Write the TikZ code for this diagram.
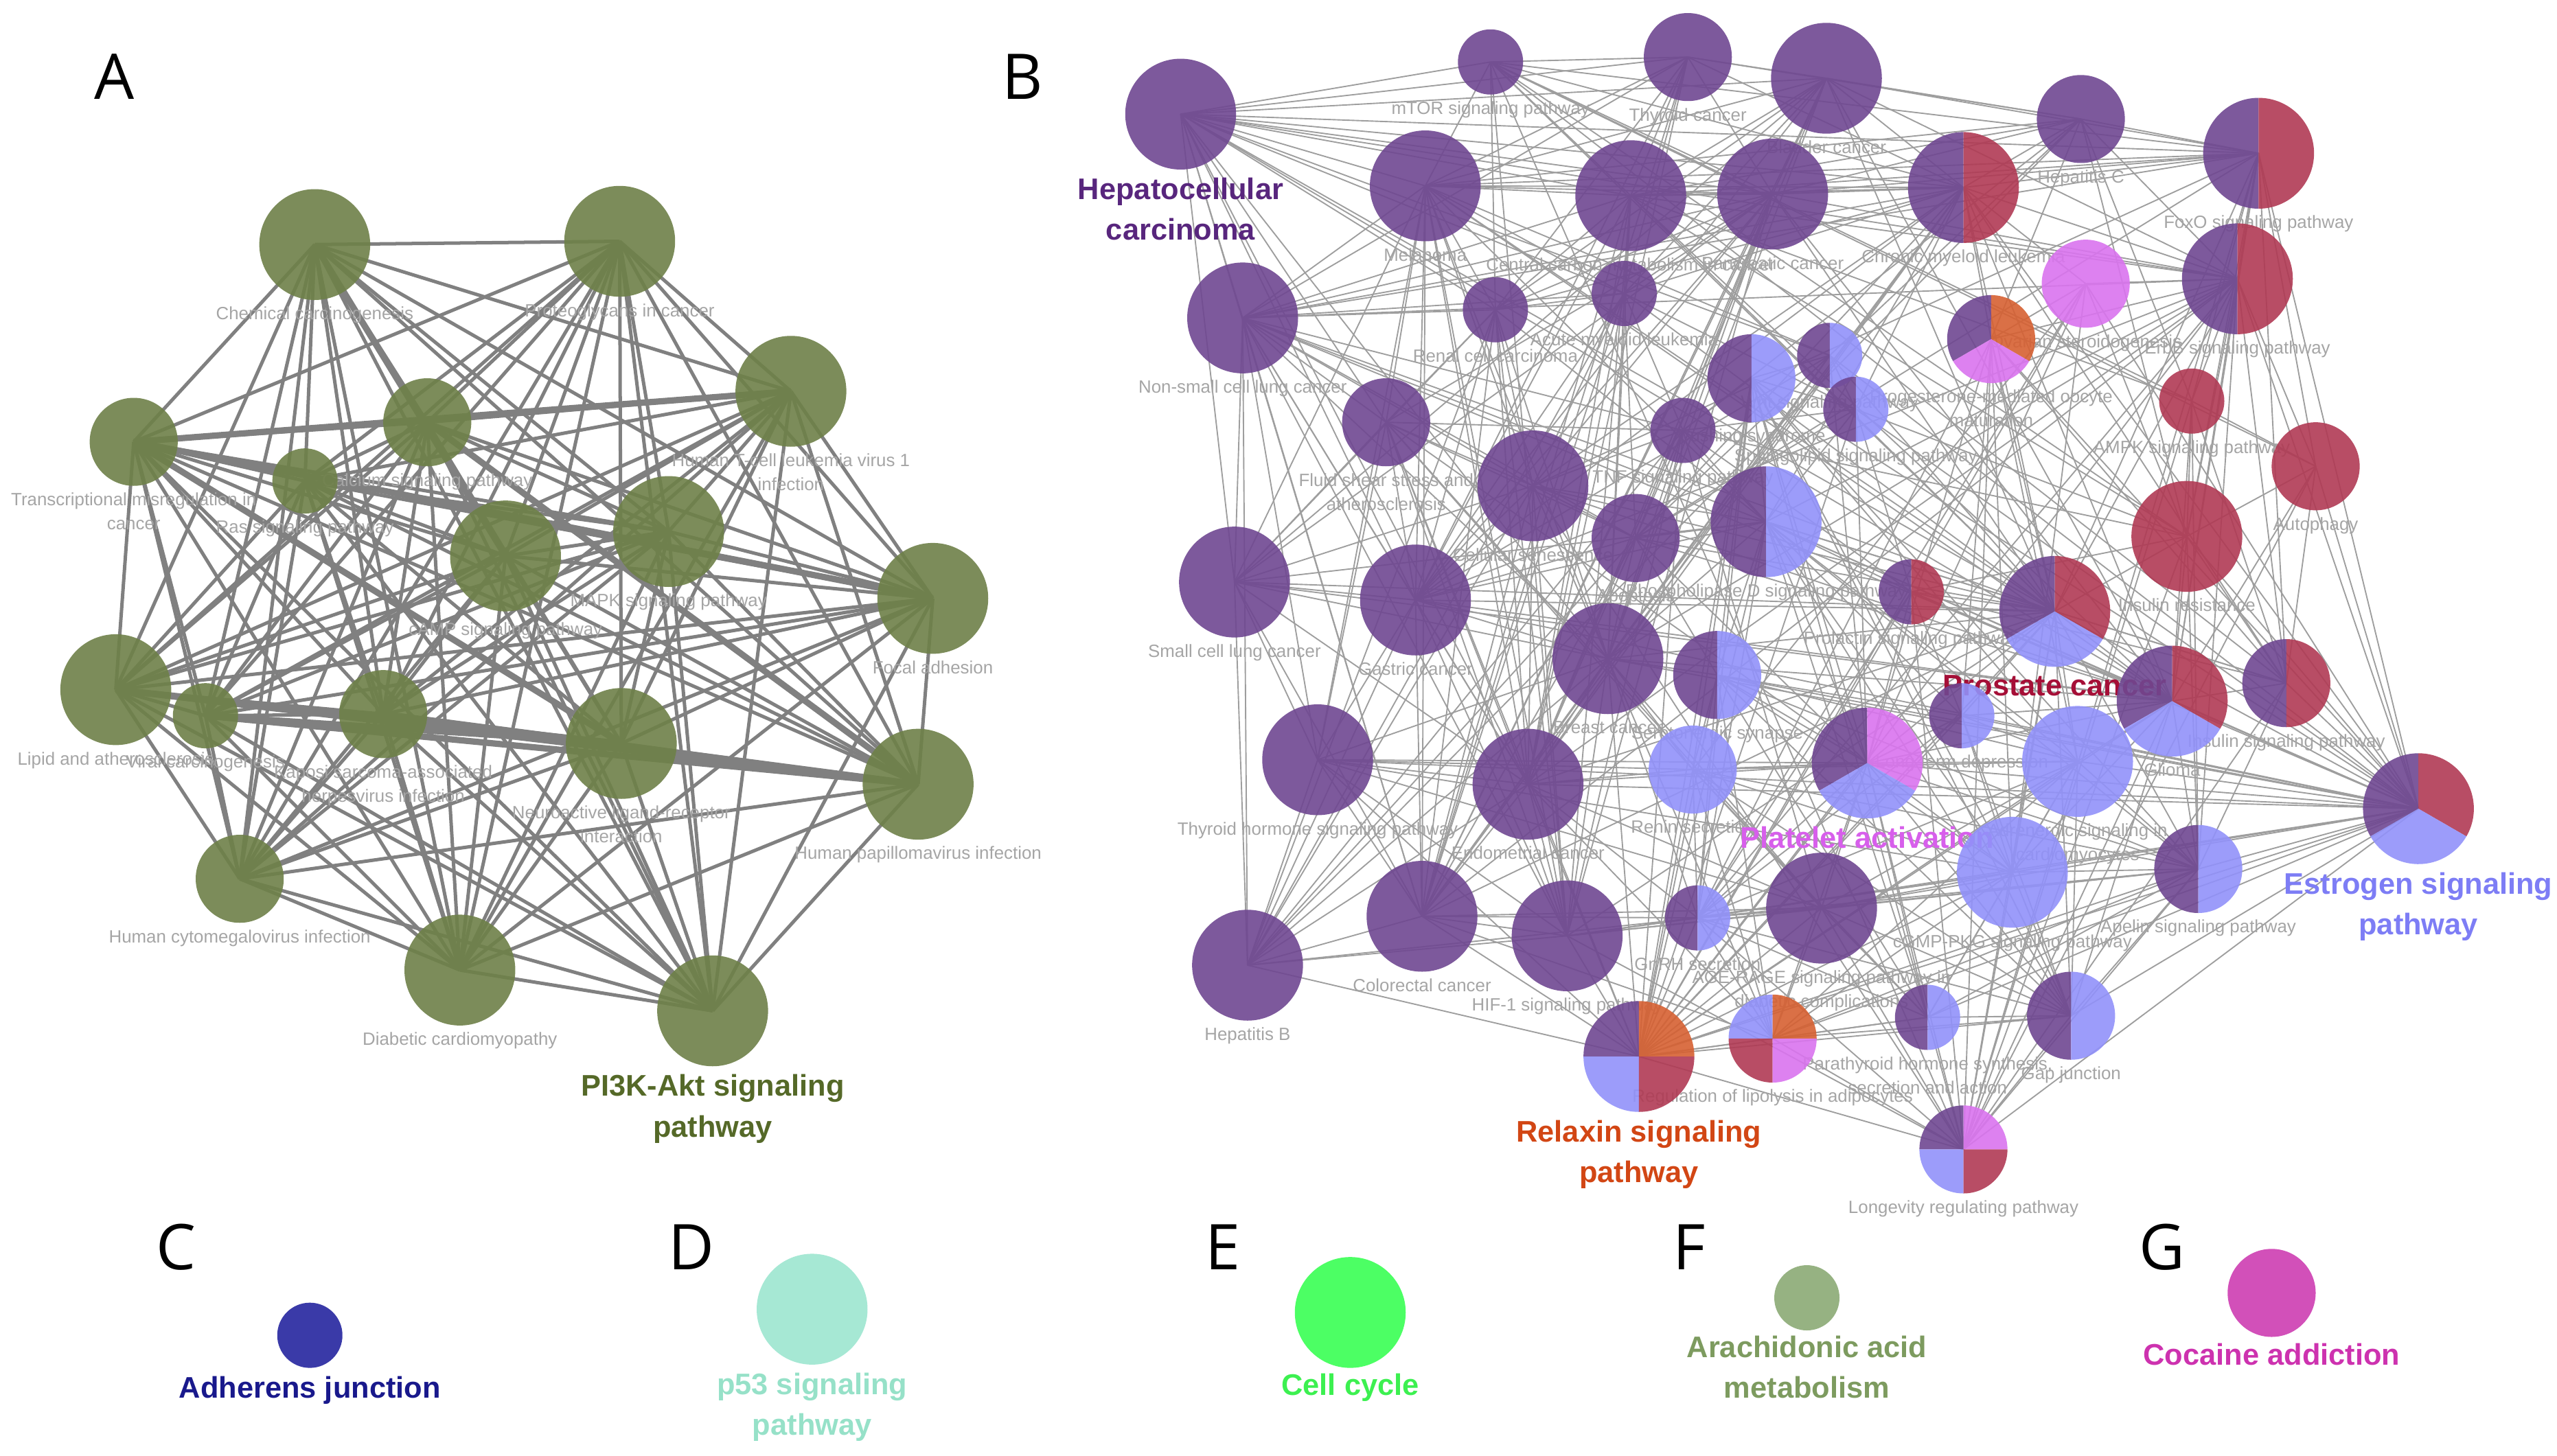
\documentclass[tikz,border=0pt]{standalone}
\usepackage{fontspec}
\setmainfont{Liberation Sans}
\newfontfamily\letterfont{Open Sans}
\usepackage{xcolor}
\usepackage{tikz}
\usetikzlibrary{positioning}

\definecolor{nodeOlive}{RGB}{110,128,72}
\definecolor{nodePurple}{RGB}{111,71,145}
\definecolor{nodeRed}{RGB}{176,58,84}
\definecolor{nodeBlue}{RGB}{145,145,250}
\definecolor{nodeMagenta}{RGB}{217,115,238}
\definecolor{nodeOrange}{RGB}{214,96,50}
\definecolor{labGray}{RGB}{165,165,165}
\definecolor{linkDark}{RGB}{128,128,128}
\definecolor{linkLight}{RGB}{158,158,158}
\definecolor{hccText}{RGB}{88,38,125}
\definecolor{pikText}{RGB}{85,105,40}
\definecolor{prostText}{RGB}{165,15,55}
\definecolor{plateText}{RGB}{215,95,235}
\definecolor{estroText}{RGB}{125,125,245}
\definecolor{relaxText}{RGB}{210,70,20}
\definecolor{keyAdherens}{RGB}{58,58,168}
\definecolor{keyAdherensText}{RGB}{25,25,140}
\definecolor{keyP53}{RGB}{166,232,212}
\definecolor{keyP53Text}{RGB}{150,225,200}
\definecolor{keyCycle}{RGB}{76,255,100}
\definecolor{keyCycleText}{RGB}{60,240,80}
\definecolor{keyArach}{RGB}{150,178,130}
\definecolor{keyArachText}{RGB}{125,155,95}
\definecolor{keyCocaine}{RGB}{210,80,185}
\definecolor{keyCocaineText}{RGB}{205,50,175}

\pgfdeclarelayer{edges}
\pgfdeclarelayer{labels}
\pgfsetlayers{edges,labels,main}

% slices of the nodes shared by several groups
\newcommand{\pieslice}[5]{%
  \fill[#5, fill opacity=0.9] (#1.center) -- ++(#3:#2) arc[start angle=#3, end angle=#4, radius=#2] -- cycle;}
\newcommand{\halfpie}[4]{\pieslice{#1}{#2}{90}{270}{#3}\pieslice{#1}{#2}{-90}{90}{#4}}
\newcommand{\thirdpie}[5]{\pieslice{#1}{#2}{90}{210}{#3}\pieslice{#1}{#2}{-30}{90}{#4}\pieslice{#1}{#2}{210}{330}{#5}}
\newcommand{\quadpie}[6]{\pieslice{#1}{#2}{90}{180}{#3}\pieslice{#1}{#2}{0}{90}{#4}\pieslice{#1}{#2}{180}{270}{#5}\pieslice{#1}{#2}{270}{360}{#6}}

\begin{document}
\begin{tikzpicture}[
    x=0.02cm, y=-0.02cm,
    term/.style={circle, inner sep=0pt, fill opacity=0.9},
    termBig/.style={term, minimum size=1.36cm},
    termMid/.style={term, minimum size=1.08cm},
    termSmall/.style={term, minimum size=0.8cm},
    lab/.style={font=\fontsize{6.2}{8.4}\selectfont, text=labGray, align=center, inner sep=0.5pt},
    headlab/.style={font=\fontsize{10.4}{14.2}\selectfont\bfseries, align=center, inner sep=0.5pt},
    panel/.style={font=\letterfont\fontsize{22}{26}\selectfont, inner sep=0pt},
    alink/.style={draw=linkDark, line width=1.2pt},
    blink/.style={draw=linkLight, line width=0.45pt}
]

\useasboundingbox (0,0) rectangle (1568,893);

% panel letters
\node[panel] (letterA) at (70,47) {A};
\node[panel] (letterB) at (627,47) {B};
\node[panel] (letterC) at (108,765) {C};
\node[panel] (letterD) at (424,765) {D};
\node[panel] (letterE) at (750,765) {E};
\node[panel] (letterF) at (1036,765) {F};
\node[panel] (letterG) at (1326,765) {G};

% A: PI3K-Akt group
\node[termBig, fill=nodeOlive] (chem) at (193,150) {};
\node[termBig, fill=nodeOlive] (proteo) at (380,148) {};
\node[termBig, fill=nodeOlive] (htlv) at (485,240) {};
\node[termMid, fill=nodeOlive] (transc) at (82,271) {};
\node[termMid, fill=nodeOlive] (calcium) at (262,259) {};
\node[termSmall, fill=nodeOlive] (ras) at (187,295) {};
\node[termBig, fill=nodeOlive] (camp) at (310,341) {};
\node[termBig, fill=nodeOlive] (mapk) at (410,326) {};
\node[termBig, fill=nodeOlive] (focal) at (572,367) {};
\node[termBig, fill=nodeOlive] (lipid) at (71,423) {};
\node[termSmall, fill=nodeOlive] (viral) at (126,439) {};
\node[termMid, fill=nodeOlive] (kaposi) at (235,438) {};
\node[termBig, fill=nodeOlive] (neuro) at (381,456) {};
\node[termBig, fill=nodeOlive] (hpv) at (563,481) {};
\node[termMid, fill=nodeOlive] (hcmv) at (147,539) {};
\node[termBig, fill=nodeOlive] (diab) at (282,595) {};
\node[termBig, fill=nodeOlive] (pikt) at (437,620) {};

% B: plain nodes
\node[termBig, fill=nodePurple] (hcc) at (724,70) {};
\node[termSmall, fill=nodePurple] (mtor) at (914,38) {};
\node[termMid, fill=nodePurple] (thyca) at (1035,35) {};
\node[termBig, fill=nodePurple] (bladder) at (1120,48) {};
\node[termMid, fill=nodePurple] (hepc) at (1276,73) {};
\node[termBig, fill=nodePurple] (melan) at (874,114) {};
\node[termBig, fill=nodePurple] (ccm) at (1000,120) {};
\node[termBig, fill=nodePurple] (panc) at (1087,119) {};
\node[termMid, fill=nodeMagenta] (ovarian) at (1279,174) {};
\node[termSmall, fill=nodePurple] (renal) at (917,190) {};
\node[termSmall, fill=nodePurple] (aml) at (996,180) {};
\node[termBig, fill=nodePurple] (nsclc) at (762,195) {};
\node[termSmall, fill=nodeRed] (ampk) at (1344,246) {};
\node[termMid, fill=nodePurple] (fluid) at (850,259) {};
\node[termSmall, fill=nodePurple] (tnf) at (1032,264) {};
\node[termBig, fill=nodePurple] (cellsen) at (940,298) {};
\node[termMid, fill=nodePurple] (apop) at (1003,330) {};
\node[termMid, fill=nodeRed] (autoph) at (1420,286) {};
\node[termBig, fill=nodeRed] (insres) at (1341,329) {};
\node[termBig, fill=nodePurple] (smallcell) at (757,357) {};
\node[termBig, fill=nodePurple] (gastric) at (868,368) {};
\node[termBig, fill=nodePurple] (breast) at (986,404) {};
\node[termBig, fill=nodePurple] (thyhorm) at (808,466) {};
\node[termBig, fill=nodePurple] (endo) at (937,481) {};
\node[termMid, fill=nodeBlue] (renin) at (1038,472) {};
\node[termBig, fill=nodeBlue] (adren) at (1274,467) {};
\node[termBig, fill=nodePurple] (colo) at (872,562) {};
\node[termBig, fill=nodePurple] (hif) at (961,574) {};
\node[termBig, fill=nodePurple] (agerage) at (1117,557) {};
\node[termBig, fill=nodeBlue] (cgmp) at (1234,535) {};
\node[termBig, fill=nodePurple] (hepb) at (765,592) {};

% B: shared nodes
\node[termBig] (foxo) at (1385,94) {};
\node[termBig] (cml) at (1204,115) {};
\node[termBig] (erbb) at (1372,171) {};
\node[termMid] (progest) at (1221,208) {};
\node[termMid] (cushing) at (1074,232) {};
\node[termSmall] (wnt) at (1122,218) {};
\node[termSmall] (sphingo) at (1138,251) {};
\node[termBig] (pld) at (1083,320) {};
\node[termSmall] (prolactin) at (1172,363) {};
\node[termBig] (prostate) at (1260,375) {};
\node[termMid] (sero) at (1053,414) {};
\node[termSmall] (ltd) at (1203,439) {};
\node[termBig] (glioma) at (1332,430) {};
\node[termMid] (insig) at (1402,419) {};
\node[termBig] (platelet) at (1145,468) {};
\node[termBig] (estrogen) at (1483,496) {};
\node[termSmall] (gnrh) at (1041,563) {};
\node[termMid] (apelin) at (1348,533) {};
\node[termBig] (relaxin) at (1005,648) {};
\node[termMid] (lipo) at (1087,637) {};
\node[termSmall] (parath) at (1182,624) {};
\node[termMid] (gapj) at (1270,623) {};
\node[termMid] (longev) at (1204,705) {};

\halfpie{foxo}{.68cm}{nodePurple}{nodeRed}
\halfpie{cml}{.68cm}{nodePurple}{nodeRed}
\halfpie{erbb}{.68cm}{nodePurple}{nodeRed}
\thirdpie{progest}{.54cm}{nodePurple}{nodeOrange}{nodeMagenta}
\halfpie{cushing}{.54cm}{nodePurple}{nodeBlue}
\halfpie{wnt}{.4cm}{nodePurple}{nodeBlue}
\halfpie{sphingo}{.4cm}{nodePurple}{nodeBlue}
\halfpie{pld}{.68cm}{nodePurple}{nodeBlue}
\halfpie{prolactin}{.4cm}{nodePurple}{nodeRed}
\thirdpie{prostate}{.68cm}{nodePurple}{nodeRed}{nodeBlue}
\halfpie{sero}{.54cm}{nodePurple}{nodeBlue}
\halfpie{ltd}{.4cm}{nodePurple}{nodeBlue}
\thirdpie{glioma}{.68cm}{nodePurple}{nodeRed}{nodeBlue}
\halfpie{insig}{.54cm}{nodePurple}{nodeRed}
\thirdpie{platelet}{.68cm}{nodePurple}{nodeMagenta}{nodeBlue}
\thirdpie{estrogen}{.68cm}{nodePurple}{nodeRed}{nodeBlue}
\halfpie{gnrh}{.4cm}{nodePurple}{nodeBlue}
\halfpie{apelin}{.54cm}{nodePurple}{nodeBlue}
\quadpie{relaxin}{.68cm}{nodePurple}{nodeOrange}{nodeBlue}{nodeRed}
\quadpie{lipo}{.54cm}{nodeBlue}{nodeOrange}{nodeRed}{nodeMagenta}
\halfpie{parath}{.4cm}{nodePurple}{nodeBlue}
\halfpie{gapj}{.54cm}{nodePurple}{nodeBlue}
\quadpie{longev}{.54cm}{nodePurple}{nodeMagenta}{nodeBlue}{nodeRed}

% C to G: single terms
\node[termSmall, fill=keyAdherens, fill opacity=1] (adherens) at (190,819) {};
\node[termBig, fill=keyP53, fill opacity=1] (ptf) at (498,803) {};
\node[termBig, fill=keyCycle, fill opacity=1] (cycle) at (828,805) {};
\node[termSmall, fill=keyArach, fill opacity=1] (arach) at (1108,796) {};
\node[termMid, fill=keyCocaine, fill opacity=1] (cocaine) at (1393,793) {};

\begin{pgfonlayer}{labels}
% A labels
\node[lab, below=1.5pt of chem] (chemL) {Chemical carcinogenesis};
\node[lab, below=1.5pt of proteo] (proteoL) {Proteoglycans in cancer};
\node[lab, below=1.5pt of htlv] (htlvL) {Human T-cell leukemia virus 1\\infection};
\node[lab, below=1.5pt of transc] (transcL) {Transcriptional misregulation in\\cancer};
\node[lab, below=1.5pt of calcium] (calciumL) {Calcium signaling pathway};
\node[lab, below=1.5pt of ras] (rasL) {Ras signaling pathway};
\node[lab, below=3pt of camp] (campL) {cAMP signaling pathway};
\node[lab, below=1.5pt of mapk] (mapkL) {MAPK signaling pathway};
\node[lab, below=1.5pt of focal] (focalL) {Focal adhesion};
\node[lab, below=1.5pt of lipid] (lipidL) {Lipid and atherosclerosis};
\node[lab, below=1.5pt of viral] (viralL) {Viral carcinogenesis};
\node[lab, below=1.5pt of kaposi] (kaposiL) {Kaposi sarcoma-associated\\herpesvirus infection};
\node[lab, below=1.5pt of neuro] (neuroL) {Neuroactive ligand-receptor\\interaction};
\node[lab, below=1.5pt of hpv] (hpvL) {Human papillomavirus infection};
\node[lab, below=1.5pt of hcmv] (hcmvL) {Human cytomegalovirus infection};
\node[lab, below=1.5pt of diab] (diabL) {Diabetic cardiomyopathy};
\node[headlab, text=pikText, below=2pt of pikt] (piktL) {PI3K-Akt signaling\\pathway};
% B labels
\node[headlab, text=hccText, below=2pt of hcc] (hccL) {Hepatocellular\\carcinoma};
\node[lab, below=1.5pt of mtor] (mtorL) {mTOR signaling pathway};
\node[lab, below=1.5pt of thyca] (thycaL) {Thyroid cancer};
\node[lab, below=1.5pt of bladder] (bladderL) {Bladder cancer};
\node[lab, below=1.5pt of hepc] (hepcL) {Hepatitis C};
\node[lab, below=1.5pt of foxo] (foxoL) {FoxO signaling pathway};
\node[lab, below=1.5pt of melan] (melanL) {Melanoma};
\node[lab, below=1.5pt of ccm] (ccmL) {Central carbon metabolism in cancer};
\node[lab, below=1.5pt of panc] (pancL) {Pancreatic cancer};
\node[lab, below=1.5pt of cml] (cmlL) {Chronic myeloid leukemia};
\node[lab, below=1.5pt of ovarian] (ovarianL) {Ovarian steroidogenesis};
\node[lab, below=1.5pt of erbb] (erbbL) {ErbB signaling pathway};
\node[lab, below=1.5pt of renal] (renalL) {Renal cell carcinoma};
\node[lab, below=1.5pt of aml] (amlL) {Acute myeloid leukemia};
\node[lab, below=1.5pt of nsclc] (nsclcL) {Non-small cell lung cancer};
\node[lab, below=1.5pt of progest] (progestL) {Progesterone-mediated oocyte\\maturation};
\node[lab, below=1.5pt of cushing] (cushingL) {Cushing syndrome};
\node[lab, below=1.5pt of wnt] (wntL) {Wnt signaling pathway};
\node[lab, below=1.5pt of sphingo] (sphingoL) {Sphingolipid signaling pathway};
\node[lab, below=1.5pt of ampk] (ampkL) {AMPK signaling pathway};
\node[lab, below=1.5pt of fluid] (fluidL) {Fluid shear stress and\\atherosclerosis};
\node[lab, below=1.5pt of tnf] (tnfL) {TNF signaling pathway};
\node[lab, below=1.5pt of cellsen] (cellsenL) {Cellular senescence};
\node[lab, below=1.5pt of apop] (apopL) {Apoptosis};
\node[lab, below=1.5pt of pld] (pldL) {Phospholipase D signaling pathway};
\node[lab, below=1.5pt of autoph] (autophL) {Autophagy};
\node[lab, below=1.5pt of insres] (insresL) {Insulin resistance};
\node[lab, below=1.5pt of smallcell] (smallcellL) {Small cell lung cancer};
\node[lab, below=1.5pt of gastric] (gastricL) {Gastric cancer};
\node[lab, below=1.5pt of prolactin] (prolactinL) {Prolactin signaling pathway};
\node[headlab, text=prostText, below=2pt of prostate] (prostateL) {Prostate cancer};
\node[lab, below=1.5pt of breast] (breastL) {Breast cancer};
\node[lab, below=1.5pt of sero] (seroL) {Serotonergic synapse};
\node[lab, below=1.5pt of ltd] (ltdL) {Long-term depression};
\node[lab, below=1.5pt of glioma] (gliomaL) {Glioma};
\node[lab, below=1.5pt of insig] (insigL) {Insulin signaling pathway};
\node[lab, below=1.5pt of thyhorm] (thyhormL) {Thyroid hormone signaling pathway};
\node[lab, below=1.5pt of endo] (endoL) {Endometrial cancer};
\node[lab, below=1.5pt of renin] (reninL) {Renin secretion};
\node[headlab, text=plateText, below=2pt of platelet] (plateletL) {Platelet activation};
\node[lab, below=1.5pt of adren] (adrenL) {Adrenergic signaling in\\cardiomyocytes};
\node[headlab, text=estroText, below=2pt of estrogen] (estrogenL) {Estrogen signaling\\pathway};
\node[lab, below=1.5pt of colo] (coloL) {Colorectal cancer};
\node[lab, below=1.5pt of hif] (hifL) {HIF-1 signaling pathway};
\node[lab, below=1.5pt of gnrh] (gnrhL) {GnRH secretion};
\node[lab, below=1.5pt of agerage] (agerageL) {AGE-RAGE signaling pathway in\\diabetic complications};
\node[lab, below=1.5pt of cgmp] (cgmpL) {cGMP-PKG signaling pathway};
\node[lab, below=1.5pt of apelin] (apelinL) {Apelin signaling pathway};
\node[lab, below=1.5pt of hepb] (hepbL) {Hepatitis B};
\node[headlab, text=relaxText, below=2pt of relaxin] (relaxinL) {Relaxin signaling\\pathway};
\node[lab, below=1.5pt of lipo] (lipoL) {Regulation of lipolysis in adipocytes};
\node[lab, below=1.5pt of parath] (parathL) {Parathyroid hormone synthesis,\\secretion and action};
\node[lab, below=1.5pt of gapj] (gapjL) {Gap junction};
\node[lab, below=1.5pt of longev] (longevL) {Longevity regulating pathway};
% C to G labels
\node[headlab, text=keyAdherensText, below=2pt of adherens] (adherensL) {Adherens junction};
\node[headlab, text=keyP53Text, below=2pt of ptf] (ptfL) {p53 signaling\\pathway};
\node[headlab, text=keyCycleText, below=1pt of cycle] (cycleL) {Cell cycle};
\node[headlab, text=keyArachText, below=1pt of arach] (arachL) {Arachidonic acid\\metabolism};
\node[headlab, text=keyCocaineText, below=1.5pt of cocaine] (cocaineL) {Cocaine addiction};
\end{pgfonlayer}

\begin{pgfonlayer}{edges}
% A: every pair of terms is linked
\def\panelAnodes{chem,proteo,htlv,transc,calcium,ras,camp,mapk,focal,lipid,viral,kaposi,neuro,hpv,hcmv,diab,pikt}
\foreach \a [count=\i] in \panelAnodes {
  \foreach \b [count=\j] in \panelAnodes {\ifnum\j>\i \draw[alink] (\a.center) -- (\b.center);\fi}
}
\foreach \a/\b in {transc/htlv, transc/focal, transc/neuro, lipid/neuro, lipid/hpv, viral/hpv, viral/neuro, kaposi/hpv, chem/camp, calcium/hpv}
  \draw[alink, line width=2.2pt] (\a.center) -- (\b.center);

% B: links between the terms
\foreach \t in {mtor,melan,ccm,panc,bladder,thyca,cml,nsclc,renal,aml,fluid,gastric,breast,prostate,erbb,foxo,endo,colo,glioma,smallcell}
  \draw[blink] (hcc.center) -- (\t.center);
\foreach \t in {melan,renal,ccm,panc,cml,foxo,ampk,insres,insig,autoph,longev,hif,prostate,thyca}
  \draw[blink] (mtor.center) -- (\t.center);
\foreach \t in {bladder,melan,ccm,panc,cml,hepc,nsclc,renal,aml,colo,endo,gastric}
  \draw[blink] (thyca.center) -- (\t.center);
\foreach \t in {hepc,foxo,melan,ccm,panc,cml,erbb,renal,aml,gastric,colo,endo,breast,prostate,glioma,smallcell}
  \draw[blink] (bladder.center) -- (\t.center);
\foreach \t in {cml,foxo,erbb,ccm,panc,melan,hepb,tnf,apop,ampk,insres,progest}
  \draw[blink] (hepc.center) -- (\t.center);
\foreach \t in {cml,erbb,panc,ccm,melan,insres,insig,ampk,autoph,longev,glioma,prostate,cellsen,estrogen,apop,nsclc}
  \draw[blink] (foxo.center) -- (\t.center);
\foreach \t in {ccm,panc,cml,renal,aml,nsclc,smallcell,gastric,breast,endo,colo,glioma,prostate,cellsen,fluid,pld,hif,thyhorm}
  \draw[blink] (melan.center) -- (\t.center);
\foreach \t in {panc,cml,renal,aml,erbb,gastric,breast,endo,colo,hif,prostate,glioma,insres,ampk,nsclc}
  \draw[blink] (ccm.center) -- (\t.center);
\foreach \t in {cml,renal,aml,erbb,gastric,breast,endo,colo,glioma,prostate,cellsen,tnf,apop,hif,fluid,smallcell,nsclc}
  \draw[blink] (panc.center) -- (\t.center);
\foreach \t in {erbb,renal,aml,ovarian,progest,prostate,glioma,insig,breast,gastric,colo,endo,sphingo,pld,cellsen,apop,estrogen,nsclc}
  \draw[blink] (cml.center) -- (\t.center);
\foreach \t in {erbb,progest,estrogen,gnrh,cgmp,relaxin,platelet,renin,insres}
  \draw[blink] (ovarian.center) -- (\t.center);
\foreach \t in {ampk,autoph,insres,prostate,glioma,insig,estrogen,breast,gastric,endo,colo,pld,progest,nsclc,gnrh,relaxin,apelin}
  \draw[blink] (erbb.center) -- (\t.center);
\foreach \t in {aml,gastric,endo,colo,hif,smallcell,fluid,pld,cellsen,breast,hepb,nsclc}
  \draw[blink] (renal.center) -- (\t.center);
\foreach \t in {gastric,endo,colo,prostate,breast,sphingo,tnf,cellsen,hepb,apop,nsclc}
  \draw[blink] (aml.center) -- (\t.center);
\foreach \t in {smallcell,gastric,hepb,breast,endo,colo,prostate,glioma,cellsen,apop,pld,hif,thyhorm,fluid,tnf}
  \draw[blink] (nsclc.center) -- (\t.center);
\foreach \t in {prostate,platelet,gnrh,ltd,insig,cgmp,adren,estrogen,longev}
  \draw[blink] (progest.center) -- (\t.center);
\foreach \t in {wnt,sphingo,tnf,pld,sero,renin,platelet,gnrh,cgmp,apelin,adren,estrogen,relaxin,parath,gapj}
  \draw[blink] (cushing.center) -- (\t.center);
\foreach \t in {sphingo,melan,breast,gastric,colo,endo,hcc,estrogen,prostate,platelet}
  \draw[blink] (wnt.center) -- (\t.center);
\foreach \t in {tnf,pld,platelet,apop,prolactin,estrogen,relaxin,insres}
  \draw[blink] (sphingo.center) -- (\t.center);
\foreach \t in {insres,autoph,insig,longev,apelin,glioma}
  \draw[blink] (ampk.center) -- (\t.center);
\foreach \t in {cellsen,tnf,apop,smallcell,gastric,thyhorm,agerage,relaxin,hif,renin,platelet,endo}
  \draw[blink] (fluid.center) -- (\t.center);
\foreach \t in {cellsen,apop,pld,agerage,relaxin,hif,hepb,insres,breast,prolactin}
  \draw[blink] (tnf.center) -- (\t.center);
\foreach \t in {apop,pld,breast,gastric,endo,prostate,glioma,hepb,colo,hif,smallcell,longev}
  \draw[blink] (cellsen.center) -- (\t.center);
\foreach \t in {pld,breast,hepb,colo,gastric,endo,prostate,glioma,platelet,sero}
  \draw[blink] (apop.center) -- (\t.center);
\foreach \t in {prolactin,prostate,glioma,breast,sero,ltd,platelet,gnrh,cgmp,adren,estrogen,relaxin,parath,gapj,apelin,insig}
  \draw[blink] (pld.center) -- (\t.center);
\foreach \t in {insres,insig,longev,glioma,estrogen}
  \draw[blink] (autoph.center) -- (\t.center);
\foreach \t in {insig,prostate,glioma,longev,estrogen,prolactin,apelin}
  \draw[blink] (insres.center) -- (\t.center);
\foreach \t in {gastric,thyhorm,hepb,breast,endo,colo,prostate,glioma,pld}
  \draw[blink] (smallcell.center) -- (\t.center);
\foreach \t in {breast,endo,colo,hif,thyhorm,prostate,glioma,hepb,estrogen,pld}
  \draw[blink] (gastric.center) -- (\t.center);
\foreach \t in {prostate,glioma,insig,estrogen,ltd,gnrh,relaxin,longev,platelet}
  \draw[blink] (prolactin.center) -- (\t.center);
\foreach \t in {glioma,insig,estrogen,breast,endo,colo,ltd,platelet,adren,cgmp,apelin,relaxin,gapj,longev,hif}
  \draw[blink] (prostate.center) -- (\t.center);
\foreach \t in {endo,colo,hif,thyhorm,sero,renin,gnrh,agerage,relaxin,glioma,estrogen,hepb,lipo}
  \draw[blink] (breast.center) -- (\t.center);
\foreach \t in {ltd,renin,platelet,gnrh,cgmp,adren,relaxin,lipo,parath,gapj,apelin,estrogen}
  \draw[blink] (sero.center) -- (\t.center);
\foreach \t in {platelet,glioma,cgmp,adren,gapj,gnrh,estrogen,relaxin}
  \draw[blink] (ltd.center) -- (\t.center);
\foreach \t in {insig,estrogen,adren,cgmp,apelin,relaxin,gapj,longev,platelet}
  \draw[blink] (glioma.center) -- (\t.center);
\foreach \t in {estrogen,apelin,longev}
  \draw[blink] (insig.center) -- (\t.center);
\foreach \t in {endo,colo,hepb,hif,renin,agerage,relaxin,platelet,estrogen,cgmp}
  \draw[blink] (thyhorm.center) -- (\t.center);
\foreach \t in {colo,hif,hepb,renin,agerage,gnrh,relaxin,lipo,platelet,estrogen}
  \draw[blink] (endo.center) -- (\t.center);
\foreach \t in {platelet,gnrh,cgmp,adren,relaxin,lipo,parath,gapj,apelin,agerage}
  \draw[blink] (renin.center) -- (\t.center);
\foreach \t in {adren,cgmp,gnrh,agerage,relaxin,lipo,parath,gapj,apelin,estrogen,longev}
  \draw[blink] (platelet.center) -- (\t.center);
\foreach \t in {cgmp,apelin,estrogen,gapj,parath,relaxin,lipo,agerage,gnrh}
  \draw[blink] (adren.center) -- (\t.center);
\foreach \t in {apelin,cgmp,gapj,longev,parath,relaxin,lipo,agerage,gnrh}
  \draw[blink] (estrogen.center) -- (\t.center);
\foreach \t in {hif,hepb,agerage,relaxin,gnrh,lipo}
  \draw[blink] (colo.center) -- (\t.center);
\foreach \t in {hepb,agerage,relaxin,gnrh,cgmp,apelin,longev}
  \draw[blink] (hif.center) -- (\t.center);
\foreach \t in {agerage,relaxin,lipo,parath,cgmp,gapj,apelin,longev}
  \draw[blink] (gnrh.center) -- (\t.center);
\foreach \t in {relaxin,lipo,parath,cgmp,apelin,longev,gapj}
  \draw[blink] (agerage.center) -- (\t.center);
\foreach \t in {apelin,gapj,parath,relaxin,lipo,longev}
  \draw[blink] (cgmp.center) -- (\t.center);
\foreach \t in {gapj,longev,relaxin,lipo,parath}
  \draw[blink] (apelin.center) -- (\t.center);
\foreach \t in {relaxin,gnrh}
  \draw[blink] (hepb.center) -- (\t.center);
\foreach \t in {lipo,parath,gapj,longev}
  \draw[blink] (relaxin.center) -- (\t.center);
\foreach \t in {parath,gapj,longev}
  \draw[blink] (lipo.center) -- (\t.center);
\foreach \t in {gapj,longev}
  \draw[blink] (parath.center) -- (\t.center);
\draw[blink] (gapj.center) -- (longev.center);
\end{pgfonlayer}

\end{tikzpicture}
\end{document}
